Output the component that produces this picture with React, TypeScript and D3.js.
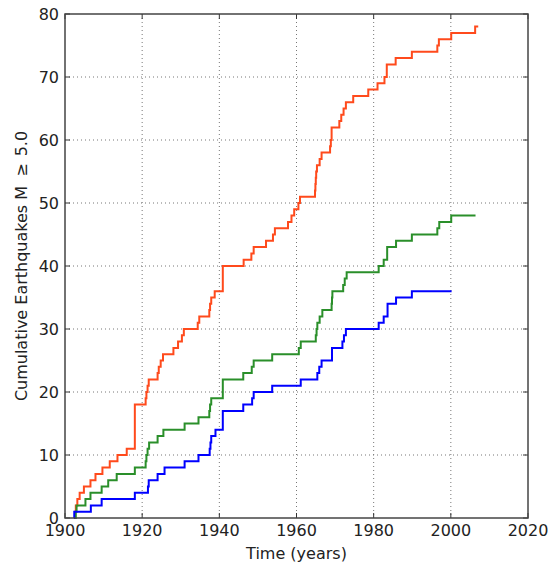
import React from "react";
import * as d3 from "d3";

const xTicks = [1900, 1920, 1940, 1960, 1980, 2000, 2020];
const yTicks = [0, 10, 20, 30, 40, 50, 60, 70, 80];

const orangeYears = [1902.5, 1902.6, 1902.8, 1903.2, 1903.8, 1904.9, 1906.6, 1907.9, 1909.7, 1911.6, 1913.6, 1916.0, 1918.1, 1920.9, 1921.1, 1921.4, 1921.7, 1924.0, 1924.3, 1924.8, 1925.4, 1928.1, 1929.3, 1930.3, 1930.8, 1934.4, 1934.8, 1937.4, 1937.6, 1937.9, 1938.8, 1940.9, 1946.3, 1948.3, 1948.9, 1952.1, 1953.9, 1954.4, 1957.8, 1958.7, 1959.4, 1960.5, 1960.9, 1964.8, 1964.9, 1965.0, 1965.1, 1965.3, 1966.0, 1966.5, 1968.7, 1968.9, 1969.1, 1971.1, 1971.6, 1972.2, 1972.8, 1974.7, 1978.6, 1981.0, 1982.8, 1983.4, 1985.7, 1989.9, 1996.5, 1996.9, 2000.1, 2006.3, 2007.1];
const orangeCounts = [0, 1, 2, 3, 4, 5, 6, 7, 8, 9, 10, 11, 18, 19, 20, 21, 22, 23, 24, 25, 26, 27, 28, 29, 30, 31, 32, 33, 34, 35, 36, 40, 41, 42, 43, 44, 45, 46, 47, 48, 49, 50, 51, 52, 53, 54, 55, 56, 57, 58, 59, 60, 62, 63, 64, 65, 66, 67, 68, 69, 70, 72, 73, 74, 75, 76, 77, 78, 78];

const greenYears = [1902.7, 1902.8, 1903.0, 1905.3, 1906.6, 1909.5, 1911.2, 1913.4, 1918.1, 1920.9, 1921.1, 1921.4, 1921.8, 1924.0, 1925.5, 1931.0, 1934.6, 1937.4, 1937.6, 1937.9, 1940.9, 1946.2, 1948.4, 1948.9, 1953.7, 1960.6, 1961.1, 1965.0, 1965.2, 1965.4, 1966.0, 1966.7, 1969.1, 1969.2, 1969.3, 1972.1, 1972.5, 1973.0, 1981.3, 1982.6, 1983.5, 1985.8, 1989.9, 1996.5, 1997.0, 2000.1, 2006.4];
const greenCounts = [0, 1, 2, 3, 4, 5, 6, 7, 8, 9, 10, 11, 12, 13, 14, 15, 16, 17, 18, 19, 22, 23, 24, 25, 26, 27, 28, 29, 30, 31, 32, 33, 34, 35, 36, 37, 38, 39, 40, 41, 43, 44, 45, 46, 47, 48, 48];

const blueYears = [1902.3, 1902.4, 1906.7, 1909.5, 1918.1, 1921.5, 1921.7, 1924.0, 1925.8, 1931.0, 1934.6, 1937.5, 1937.7, 1937.9, 1939.0, 1940.9, 1946.2, 1948.5, 1948.9, 1953.7, 1961.1, 1965.4, 1965.9, 1966.5, 1969.2, 1971.9, 1972.3, 1972.8, 1981.3, 1982.6, 1983.6, 1985.8, 1989.9, 2000.2];
const blueCounts = [0, 1, 2, 3, 4, 5, 6, 7, 8, 9, 10, 11, 12, 13, 14, 17, 18, 19, 20, 21, 22, 23, 24, 25, 27, 28, 29, 30, 31, 32, 34, 35, 36, 36];

const series = [
  { name: "orange", years: orangeYears, counts: orangeCounts, color: "#ff4a1c" },
  { name: "green", years: greenYears, counts: greenCounts, color: "#2a8f2a" },
  { name: "blue", years: blueYears, counts: blueCounts, color: "#0000ff" },
];

const W = 549;
const H = 566;
const L = 65, R = 528, T = 14, B = 518;

export default function App() {
  const x = d3.scaleLinear().domain([1900, 2020]).range([L, R]);
  const y = d3.scaleLinear().domain([0, 80]).range([B, T]);
  const line = d3
    .line<[number, number]>()
    .x((d) => x(d[0]))
    .y((d) => y(d[1]))
    .curve(d3.curveStepAfter);
  const font = "DejaVu Sans, sans-serif";
  return (
    <svg
      width={W}
      height={H}
      style={{ position: "absolute", left: 0, top: 0, background: "#fff" }}
      fontFamily={font}
    >
      <rect x={0} y={0} width={W} height={H} fill="#fff" />
      {xTicks.slice(1, -1).map((t) => (
        <line key={"gx" + t} x1={x(t)} x2={x(t)} y1={T} y2={B} stroke="#777" strokeWidth={1} strokeDasharray="1,3" />
      ))}
      {yTicks.slice(1, -1).map((t) => (
        <line key={"gy" + t} x1={L} x2={R} y1={y(t)} y2={y(t)} stroke="#777" strokeWidth={1} strokeDasharray="1,3" />
      ))}
      {series.map((s) => (
        <path
          key={s.name}
          d={line(s.years.map((yr, i) => [yr, s.counts[i]] as [number, number])) || ""}
          fill="none"
          stroke={s.color}
          strokeWidth={2}
          strokeLinejoin="miter"
        />
      ))}
      {xTicks.map((t) => (
        <g key={"tx" + t}>
          <line x1={x(t)} x2={x(t)} y1={B} y2={B - 5} stroke="#333" strokeWidth={1} />
          <line x1={x(t)} x2={x(t)} y1={T} y2={T + 5} stroke="#333" strokeWidth={1} />
          <text x={x(t)} y={536} textAnchor="middle" fontSize={16} fill="#222">
            {t}
          </text>
        </g>
      ))}
      {yTicks.map((t) => (
        <g key={"ty" + t}>
          <line x1={L} x2={L + 5} y1={y(t)} y2={y(t)} stroke="#333" strokeWidth={1} />
          <line x1={R} x2={R - 5} y1={y(t)} y2={y(t)} stroke="#333" strokeWidth={1} />
          <text x={59} y={y(t) + 6} textAnchor="end" fontSize={16} fill="#222">
            {t}
          </text>
        </g>
      ))}
      <rect x={L} y={T} width={R - L} height={B - T} fill="none" stroke="#444" strokeWidth={1.5} />
      <text x={(L + R) / 2} y={559} textAnchor="middle" fontSize={16} fill="#222">
        Time (years)
      </text>
      <text
        transform={`translate(27,${(T + B) / 2}) rotate(-90)`}
        textAnchor="middle"
        fontSize={16}
        fill="#222"
      >
        Cumulative Earthquakes M <tspan dx={4}>≥</tspan> <tspan dx={2}>5.0</tspan>
      </text>
    </svg>
  );
}
